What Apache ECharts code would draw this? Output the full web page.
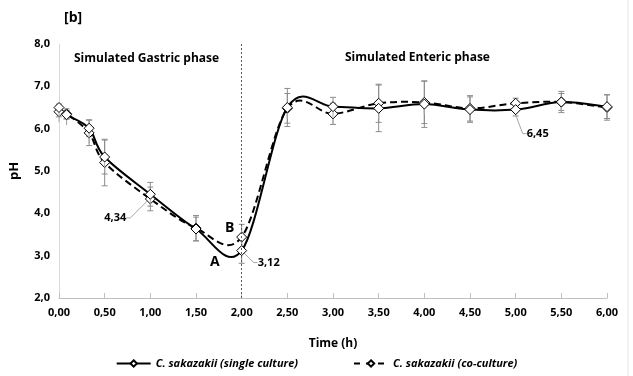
<!DOCTYPE html>
<html>
<head>
<meta charset="utf-8">
<script src="https://cdn.jsdelivr.net/npm/echarts@6/dist/echarts.min.js"></script>
<style>
  html, body { margin: 0; padding: 0; background: #fff; }
  #chart { width: 633px; height: 376px; }
</style>
</head>
<body>
<div id="chart"></div>
<script>
var times = [0, 0.083, 0.33, 0.5, 1, 1.5, 2, 2.5, 3, 3.5, 4, 4.5, 5, 5.5, 6];
var single = [6.5, 6.33, 6.01, 5.33, 4.45, 3.63, 3.12, 6.5, 6.52, 6.48, 6.58, 6.45, 6.45, 6.63, 6.52];
var singleErr = [0.08, 0.1, 0.2, 0.4, 0.28, 0.28, 0.3, 0.45, 0.22, 0.55, 0.55, 0.3, 0.15, 0.25, 0.28];
var cocult = [6.4, 6.35, 5.9, 5.2, 4.34, 3.65, 3.44, 6.48, 6.35, 6.6, 6.62, 6.48, 6.6, 6.63, 6.5];
var cocultErr = [0.12, 0.12, 0.3, 0.55, 0.28, 0.3, 0.3, 0.35, 0.25, 0.45, 0.5, 0.3, 0.12, 0.2, 0.3];
// labelled points: [series, index, dx, dy]
var callouts = [['co', 4, -35, 3], ['single', 6, 27, -4], ['single', 12, 22, 8]];

var font = '"Open Sans", "Liberation Sans", sans-serif';
var SINGLE = 'C. sakazakii (single culture)';
var CO = 'C. sakazakii (co-culture)';

function pairs(vals) {
  return times.map(function (t, i) { return [t, vals[i]]; });
}
function errData(vals, errs) {
  return times.map(function (t, i) { return [t, vals[i] - errs[i], vals[i] + errs[i]]; });
}
function errorBars(params, api) {
  var lo = api.coord([api.value(0), api.value(1)]);
  var hi = api.coord([api.value(0), api.value(2)]);
  var style = { stroke: '#8c8c8c', lineWidth: 1 };
  return {
    type: 'group',
    children: [
      { type: 'line', shape: { x1: lo[0], y1: lo[1], x2: hi[0], y2: hi[1] }, style: style },
      { type: 'line', shape: { x1: lo[0] - 3, y1: lo[1], x2: lo[0] + 3, y2: lo[1] }, style: style },
      { type: 'line', shape: { x1: hi[0] - 3, y1: hi[1], x2: hi[0] + 3, y2: hi[1] }, style: style }
    ]
  };
}
// excel-like smoothed curve (catmull-rom, tension 1/6) built in pixel space
function smoothCurve(vals, dash) {
  return function (params, api) {
    if (params.dataIndex !== 0) return;
    var p = times.map(function (t, i) { return api.coord([t, vals[i]]); });
    var n = p.length;
    var d = 'M' + p[0][0] + ',' + p[0][1];
    for (var i = 0; i < n - 1; i++) {
      var a = p[Math.max(i - 1, 0)], b = p[i], c = p[i + 1], e = p[Math.min(i + 2, n - 1)];
      var c1x = b[0] + (c[0] - a[0]) / 6, c1y = b[1] + (c[1] - a[1]) / 6;
      var c2x = c[0] - (e[0] - b[0]) / 6, c2y = c[1] - (e[1] - b[1]) / 6;
      d += ' C' + c1x + ',' + c1y + ' ' + c2x + ',' + c2y + ' ' + c[0] + ',' + c[1];
    }
    return {
      type: 'path',
      shape: { pathData: d },
      style: { fill: null, stroke: '#000', lineWidth: 2, lineDash: dash }
    };
  };
}
function calloutFor(name) {
  return function (p) {
    for (var i = 0; i < callouts.length; i++) {
      if (callouts[i][0] === name && callouts[i][1] === p.dataIndex) {
        return { dx: callouts[i][2], dy: callouts[i][3] };
      }
    }
  };
}
function labelFor(name) {
  return function (p) {
    for (var i = 0; i < callouts.length; i++) {
      if (callouts[i][0] === name && callouts[i][1] === p.dataIndex) {
        return p.value[1].toFixed(2).replace('.', ',');
      }
    }
    return '';
  };
}

var myChart = echarts.init(document.getElementById('chart'));
var option = {
  animation: false,
  textStyle: { fontFamily: font },
  grid: { left: 57, right: 26, top: 44, bottom: 78 },
  xAxis: {
    type: 'value', min: 0, max: 6, interval: 0.5,
    name: 'Time (h)', nameLocation: 'middle', nameGap: 40,
    nameTextStyle: { fontWeight: 'bold', fontSize: 12, color: '#000' },
    axisLine: { lineStyle: { color: '#bfbfbf' } },
    axisTick: { show: true, length: 5, inside: true, lineStyle: { color: '#bfbfbf' } },
    axisLabel: { fontWeight: 'bold', fontSize: 11, color: '#000', margin: 9,
      formatter: function (v) { return v.toFixed(2).replace('.', ','); } },
    splitLine: { show: false }
  },
  yAxis: {
    type: 'value', min: 2, max: 8, interval: 1,
    name: 'pH', nameLocation: 'middle', nameGap: 38, nameRotate: 90,
    nameTextStyle: { fontWeight: 'bold', fontSize: 13, color: '#000' },
    axisLine: { show: true, lineStyle: { color: '#d9d9d9' } },
    axisTick: { show: false },
    axisLabel: { fontWeight: 'bold', fontSize: 11, color: '#000', margin: 9,
      formatter: function (v) { return v.toFixed(1).replace('.', ','); } },
    splitLine: { show: false }
  },
  legend: {
    bottom: 2, left: 'center', itemGap: 55, itemWidth: 34, itemHeight: 8,
    data: [
      { name: SINGLE, lineStyle: { opacity: 1, width: 2, color: '#000' } },
      { name: CO, lineStyle: { opacity: 1, width: 2, color: '#000', type: [6, 6] } }
    ],
    textStyle: { fontStyle: 'italic', fontWeight: 'bold', fontSize: 11, color: '#000' }
  },
  series: [
    { type: 'custom', name: 'errSingle', renderItem: errorBars, data: errData(single, singleErr), z: 1 },
    { type: 'custom', name: 'errCo', renderItem: errorBars, data: errData(cocult, cocultErr), z: 1 },
    { type: 'custom', name: 'curveCo', renderItem: smoothCurve(cocult, [7, 4]), data: pairs(cocult), z: 2 },
    { type: 'custom', name: 'curveSingle', renderItem: smoothCurve(single, null), data: pairs(single), z: 2 },
    {
      name: CO, type: 'line',
      data: pairs(cocult), symbol: 'diamond', symbolSize: 10, z: 3,
      itemStyle: { color: '#fff', borderColor: '#000', borderWidth: 1 },
      lineStyle: { color: '#000', width: 2, opacity: 0 },
      label: { show: true, position: 'bottom', fontWeight: 'bold', fontSize: 11, color: '#000',
        formatter: labelFor('co') },
      labelLayout: calloutFor('co'),
      labelLine: { show: true, length2: 4, lineStyle: { color: '#a6a6a6', width: 1 } }
    },
    {
      name: SINGLE, type: 'line',
      data: pairs(single), symbol: 'diamond', symbolSize: 10, z: 4,
      itemStyle: { color: '#fff', borderColor: '#000', borderWidth: 1 },
      lineStyle: { color: '#000', width: 2, opacity: 0 },
      label: { show: true, position: 'bottom', fontWeight: 'bold', fontSize: 11, color: '#000',
        formatter: labelFor('single') },
      labelLayout: calloutFor('single'),
      labelLine: { show: true, length2: 4, lineStyle: { color: '#a6a6a6', width: 1 } },
      markLine: {
        silent: true, symbol: 'none', label: { show: false },
        lineStyle: { color: '#595959', type: [2, 2], width: 1, opacity: 1 },
        data: [{ xAxis: 2 }]
      }
    }
  ],
  graphic: [
    { type: 'text', left: 64, top: 11, style: { text: '[b]', fontFamily: font, fontWeight: 'bold', fontSize: 14, fill: '#000' } },
    { type: 'text', left: 74, top: 53, style: { text: 'Simulated Gastric phase', fontFamily: font, fontWeight: 'bold', fontSize: 12, fill: '#000' } },
    { type: 'text', left: 345, top: 52, style: { text: 'Simulated Enteric phase', fontFamily: font, fontWeight: 'bold', fontSize: 12, fill: '#000' } },
    { type: 'text', left: 210, top: 255, style: { text: 'A', fontFamily: font, fontWeight: 'bold', fontSize: 14, fill: '#000' } },
    { type: 'text', left: 225, top: 221, style: { text: 'B', fontFamily: font, fontWeight: 'bold', fontSize: 14, fill: '#000' } },
    { type: 'line', shape: { x1: 628, y1: 0, x2: 628, y2: 376 }, style: { stroke: '#e6e6e6', lineWidth: 1 } }
  ]
};
myChart.setOption(option);
window.addEventListener('resize', function () { myChart.resize(); });
</script>
</body>
</html>
